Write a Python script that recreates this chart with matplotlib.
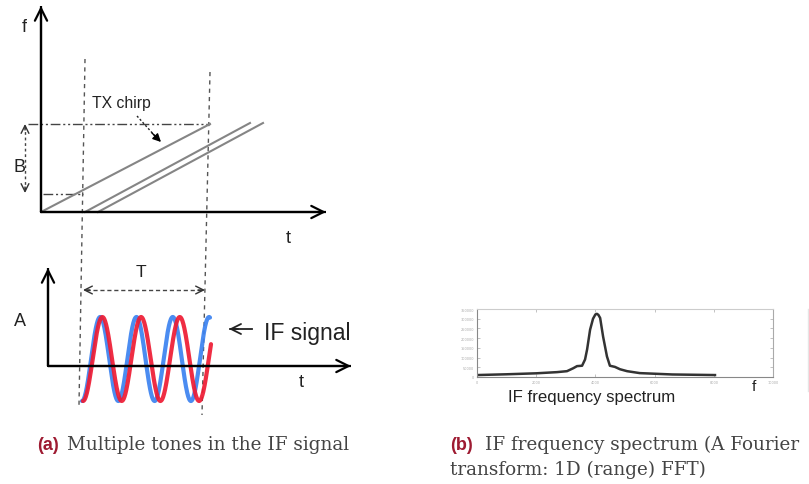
import numpy as np
import matplotlib
matplotlib.use("Agg")
import matplotlib.pyplot as plt

# ---- diagram geometry (pixel units of the 809x485 canvas) ----
# top panel: frequency vs time
f_axis = [(41, 213), (41, 7)]
t_axis_top = [(41, 213), (326, 213)]
tx_chirp = [(41, 213), (210, 125)]
rx_chirps = [[(85, 213), (250, 124)], [(98, 213), (263, 124)]]
b_top_line = [(28, 125), (210, 125)]
b_low_line = [(43, 195), (83, 195)]
dashed_left = [(85, 60), (79, 406)]
dashed_right = [(210, 73), (202, 416)]

# bottom panel: amplitude vs time
a_axis = [(48, 367), (48, 269)]
t_axis_bot = [(48, 367), (351, 367)]
sig_center, sig_amp = 360, 42
# two tones: start (trough), period, end
red_tone = (83, 38.7, 211)
blue_tone = (82, 36.3, 210)

# IF spectrum samples (frequency bin, magnitude)
spec_bin = [0, 10, 20, 27, 30.4, 32.5, 33.8, 35.5, 36.5, 37.2, 38.2, 39.2,
            40.0, 40.5, 41.0, 41.6, 42.6, 43.9, 44.9, 46.6, 48.3, 50.7, 55,
            66, 80.4]
spec_mag = [10000, 14000, 19000, 25000, 30000, 45000, 56000, 58000, 90000,
            142000, 243000, 300000, 322000, 325000, 320000, 304000, 208000,
            106000, 58000, 52000, 40000, 30000, 20000, 13000, 10000]
spec_xticks = [0, 20, 40, 60, 80, 100]
spec_xlabels = ["0", "2000", "4000", "6000", "8000", "10000"]
spec_yticks = [0, 50000, 100000, 150000, 200000, 250000, 300000, 350000]

W, H = 809, 485
fig = plt.figure(figsize=(W / 100, H / 100), dpi=100)
ax = fig.add_axes([0, 0, 1, 1])
ax.set_xlim(0, W)
ax.set_ylim(H, 0)
ax.axis("off")

SANS = ["Liberation Sans", "DejaVu Sans"]
gray_dash = "#555555"


def seg(p, **kw):
    ax.plot([p[0][0], p[1][0]], [p[0][1], p[1][1]], **kw)


def axis_arrow(p):
    seg(p, color="black", lw=1.6, solid_capstyle="butt")
    ax.annotate("", xy=p[1], xytext=p[0],
                arrowprops=dict(arrowstyle="->", color="black", lw=1.6,
                                mutation_scale=22, shrinkA=0, shrinkB=0))


def head(tip, frm, lw=1.0, color="#333333", scale=12):
    # short solid arrow only to draw the chevron at tip
    ax.annotate("", xy=tip, xytext=frm,
                arrowprops=dict(arrowstyle="->", color=color, lw=lw,
                                mutation_scale=scale, shrinkA=0, shrinkB=0))


# ---- top panel ----
seg(dashed_left, color=gray_dash, lw=1.0, ls=(0, (3, 3)))
seg(dashed_right, color=gray_dash, lw=1.0, ls=(0, (3, 3)))
seg(b_top_line, color="#444444", lw=1.0, ls=(0, (7, 2, 1.5, 2, 1.5, 2)))
seg(b_low_line, color="#444444", lw=1.0, ls=(0, (7, 2, 1.5, 2, 1.5, 2)))
seg(tx_chirp, color="#858585", lw=1.5)
for rx in rx_chirps:
    seg(rx, color="#858585", lw=1.5)
axis_arrow(f_axis)
axis_arrow(t_axis_top)

# B double arrow (dotted)
seg([(25, 127), (25, 191)], color="#444444", lw=1.0, ls=(0, (2, 2)))
head((25, 125), (25, 131), scale=14)
head((25, 194), (25, 188), scale=14)

# TX chirp pointer
seg([(137, 117), (155, 137)], color="#222222", lw=1.0, ls=(0, (1.5, 1.5)))
ax.annotate("", xy=(161, 143), xytext=(152, 134),
            arrowprops=dict(arrowstyle="-|>", color="black", lw=1.0,
                            mutation_scale=12, shrinkA=0, shrinkB=0))

ax.text(24, 28, "f", fontsize=13, family=SANS, ha="center", va="center",
        color="#222222")
ax.text(20, 168, "B", fontsize=13, family=SANS, ha="center", va="center",
        color="#222222")
ax.text(288, 239, "t", fontsize=13, family=SANS, ha="center", va="center",
        color="#222222")
ax.text(92, 108, "TX chirp", fontsize=11.3, family=SANS, ha="left",
        va="baseline", color="#222222")

# ---- bottom panel ----
ax.text(141, 273, "T", fontsize=12.5, family=SANS, ha="center", va="center",
        color="#222222")
seg([(86, 291), (202, 291)], color="#444444", lw=1.0, ls=(0, (3, 2)))
head((83, 291), (90, 291), scale=14)
head((205, 291), (198, 291), scale=14)

for (x0, period, x1), col, lw in [(blue_tone, "#3b82f0", 3.0),
                                  (red_tone, "#ee1b33", 3.0)]:
    xs = np.linspace(x0, x1, 400)
    ys = sig_center + sig_amp * np.cos(2 * np.pi * (xs - x0) / period)
    ax.plot(xs, ys, color=col, lw=lw, alpha=0.92, solid_capstyle="round")

axis_arrow(a_axis)
axis_arrow(t_axis_bot)

ax.text(20, 322, "A", fontsize=13, family=SANS, ha="center", va="center",
        color="#222222")
ax.text(301, 383, "t", fontsize=13, family=SANS, ha="center", va="center",
        color="#222222")
# "<-" pointer to the IF signal
seg([(230, 330), (252, 330)], color="#222222", lw=1.3)
ax.annotate("", xy=(229, 330), xytext=(238, 330),
            arrowprops=dict(arrowstyle="->", color="#222222", lw=1.3,
                            mutation_scale=18, shrinkA=0, shrinkB=0))
ax.text(264, 340, "IF signal", fontsize=16.6, family=SANS, ha="left",
        va="baseline", color="#222222")

# ---- spectrum inset ----
sx = fig.add_axes([477 / W, 1 - 378 / H, 296 / W, 68 / H])
sx.plot(spec_bin, spec_mag, color="#333333", lw=1.8)
sx.set_xlim(0, 100)
sx.set_ylim(0, 350000)
sx.set_xticks(spec_xticks)
sx.set_xticklabels(spec_xlabels)
sx.set_yticks(spec_yticks)
sx.set_yticklabels([str(v) for v in spec_yticks])
sx.tick_params(direction="in", length=2, width=0.5, colors="#aaaaaa",
               labelsize=2.5, pad=2, top=True, right=True)
for side, c in [("left", "#888888"), ("bottom", "#888888"),
                ("top", "#cccccc"), ("right", "#aaaaaa")]:
    sx.spines[side].set_color(c)
    sx.spines[side].set_linewidth(0.8)

ax.text(754, 387, "f", fontsize=11, family=SANS, ha="center", va="center",
        color="#222222")
ax.text(508, 402, "IF frequency spectrum", fontsize=12.1, family=SANS,
        ha="left", va="baseline", color="#222222")
seg([(808, 310), (808, 392)], color="#e6e6e6", lw=1.0)

# ---- captions ----
CAP = ["DejaVu Serif"]
ax.text(37, 450, "(a)", fontsize=13, family=SANS, weight="bold",
        color="#9e1b32", ha="left", va="baseline")
ax.text(67, 450, "Multiple tones in the IF signal", fontsize=13.2,
        family=CAP, color="#444444", ha="left", va="baseline")
ax.text(450, 450, "(b)", fontsize=13, family=SANS, weight="bold",
        color="#9e1b32", ha="left", va="baseline")
ax.text(485, 450, "IF frequency spectrum (A Fourier", fontsize=13.2,
        family=CAP, color="#444444", ha="left", va="baseline")
ax.text(450, 475, "transform: 1D (range) FFT)", fontsize=13.2,
        family=CAP, color="#444444", ha="left", va="baseline")

fig.savefig("out.png", dpi=100)
